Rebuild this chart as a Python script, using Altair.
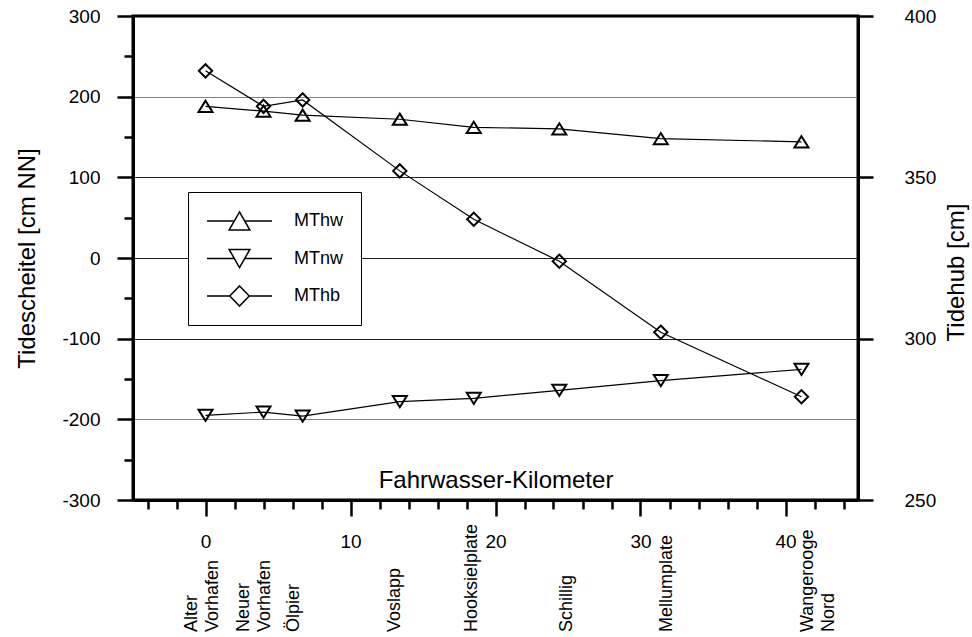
import altair as alt
import pandas as pd

# ---------------- data ----------------
stations = ["Alter\nVorhafen", "Neuer\nVorhafen", "Ölpier", "Voslapp",
            "Hooksielplate", "Schillig", "Mellumplate", "Wangerooge\nNord"]
km = [0.0, 4.0, 6.7, 13.4, 18.5, 24.4, 31.4, 41.1]
label_km = [-0.2, 3.4, 6.1, 13.1, 18.4, 24.9, 31.8, 42.3]
mthw = [188, 182, 177, 172, 162, 160, 148, 144]
mtnw = [-195, -191, -196, -178, -174, -164, -152, -138]
mthb = [383, 372, 374, 352, 337, 324, 302, 282]
series = ["MThw", "MTnw", "MThb"]
x_ticks = list(range(-4, 45, 2))
y_left_ticks = list(range(-300, 301, 50))
y_right_ticks = [250, 300, 350, 400]

left_df = pd.DataFrame({
    "km": km + km,
    "value": mthw + mtnw,
    "series": ["MThw"] * len(km) + ["MTnw"] * len(km),
})
right_df = pd.DataFrame({"km": km, "value": mthb, "series": ["MThb"] * len(km)})
lab_df = pd.DataFrame({"km": label_km, "station": stations})
leg_df = pd.DataFrame({"series": series})

FONT = "Liberation Sans"

# marker shapes (data)
TRI_UP = "M0,-0.8L1,0.8L-1,0.8Z"
TRI_DN = "M0,0.8L1,-0.8L-1,-0.8Z"
DIAM = "M0,-0.95L0.95,0L0,0.95L-0.95,0Z"
# legend symbols (line + marker)
L_UP = "M-1,0H-0.16M0.16,0H1M0,-0.28L0.32,0.28L-0.32,0.28Z"
L_DN = "M-1,0H-0.16M0.16,0H1M0,0.28L0.32,-0.28L-0.32,-0.28Z"
L_DI = "M-1,0H-0.3M0.3,0H1M0,-0.31L0.3,0L0,0.31L-0.3,0Z"

x_enc = alt.X(
    "km:Q",
    scale=alt.Scale(domain=[-5, 45], nice=False, zero=False),
    axis=alt.Axis(
        values=x_ticks,
        labelExpr="datum.value % 10 === 0 ? toString(datum.value) : ''",
        tickSize={"condition": {"test": "datum.value % 10 !== 0", "value": 9}, "value": 16},
        grid=False,
        labelFontSize=19,
        labelPadding=16,
        labelFlush=False,
        labelOverlap=False,
        title="Fahrwasser-Kilometer",
        titleY=-13,
        titleBaseline="alphabetic",
        titleFontSize=24,
        titleFontWeight="normal",
    ),
)

legend = alt.Legend(
    title=None,
    orient="none",
    legendX=55,
    legendY=176,
    strokeColor="black",
    fillColor="white",
    padding=18,
    symbolSize=4225,
    clipHeight=22,
    symbolStrokeWidth=1.5,
    symbolStrokeColor="black",
    symbolFillColor="transparent",
    symbolOpacity=1,
    labelFontSize=18,
    labelFont=FONT,
    labelColor="black",
    labelOffset=21,
    rowPadding=15.5,
)

y_left = alt.Y(
    "value:Q",
    scale=alt.Scale(domain=[-300, 300], nice=False, zero=False),
    axis=alt.Axis(
        values=y_left_ticks,
        labelExpr="datum.value % 100 === 0 ? toString(datum.value) : ''",
        tickSize={"condition": {"test": "datum.value % 100 !== 0", "value": 9}, "value": 16},
        grid=True,
        gridColor={"condition": {"test": "abs(datum.value) === 200", "value": "#808080"},
                   "value": "#202020"},
        gridWidth=1,
        gridOpacity={"condition": {"test": "datum.value % 100 === 0 && abs(datum.value) < 300",
                                   "value": 1}, "value": 0},
        labelFontSize=19,
        labelPadding=17,
        title="Tidescheitel [cm NN]",
        titleAngle=270,
        titleX=-106,
        titleY=242,
        titleAlign="center",
        titleBaseline="middle",
        titleFontSize=24,
        titleFontWeight="normal",
    ),
)

y_right = alt.Y(
    "value:Q",
    scale=alt.Scale(domain=[250, 400], nice=False, zero=False),
    axis=alt.Axis(
        orient="right",
        values=y_right_ticks,
        tickSize=15,
        grid=False,
        labelFontSize=19,
        labelPadding=31,
        title="Tidehub [cm]",
        titleAngle=270,
        titleX=98,
        titleY=256,
        titleAlign="center",
        titleBaseline="middle",
        titleFontSize=24,
        titleFontWeight="normal",
    ),
)


def pts(df, y, name, path):
    return alt.Chart(df).transform_filter(
        alt.datum.series == name
    ).mark_point(
        filled=False, color="black", strokeWidth=2, size=196, opacity=1, shape=path
    ).encode(x=x_enc, y=y)


left_line = alt.Chart(left_df).mark_line(color="black", strokeWidth=1.2).encode(
    x=x_enc, y=y_left, detail="series:N"
)
left_layer = alt.layer(
    left_line,
    pts(left_df, y_left, "MThw", TRI_UP),
    pts(left_df, y_left, "MTnw", TRI_DN),
)

right_line = alt.Chart(right_df).mark_line(color="black", strokeWidth=1.2).encode(
    x=x_enc, y=y_right
)
right_layer = alt.layer(right_line, pts(right_df, y_right, "MThb", DIAM))

label_base = alt.Chart(lab_df)
labels_one = label_base.transform_filter(
    "indexof(datum.station, '\\n') < 0"
).mark_text(
    angle=270, align="left", baseline="middle", fontSize=18, font=FONT, color="black"
).encode(x=x_enc, y=alt.value(616), text="station:N")
labels_two = label_base.transform_filter(
    "indexof(datum.station, '\\n') >= 0"
).mark_text(
    angle=270, align="left", baseline="middle", fontSize=18, lineBreak="\n",
    lineHeight=21, dy=-10.5, font=FONT, color="black"
).encode(x=x_enc, y=alt.value(616), text="station:N")

# legend only (no marks drawn, domain fixed)
legend_layer = alt.Chart(leg_df).transform_filter("false").mark_point(
    filled=False, color="black", strokeWidth=1.5, opacity=1
).encode(
    shape=alt.Shape("series:N", scale=alt.Scale(domain=series, range=[L_UP, L_DN, L_DI]),
                    legend=legend)
)

chart = (
    alt.layer(left_layer, right_layer, labels_one, labels_two, legend_layer)
    .resolve_scale(y="independent")
    .properties(
        width=725,
        height=484,
        autosize=alt.AutoSizeParams(type="none"),
        padding={"left": 133, "top": 16, "right": 114, "bottom": 137},
    )
    .configure(font=FONT, background="white")
    .configure_axis(
        domainWidth=3, domainColor="black", tickWidth=2.5, tickColor="black",
        labelColor="black", titleColor="black", labelFont=FONT, titleFont=FONT,
    )
    .configure_view(stroke="black", strokeWidth=3)
)

chart.save("out.html", embed_options={"renderer": "svg", "actions": False})
